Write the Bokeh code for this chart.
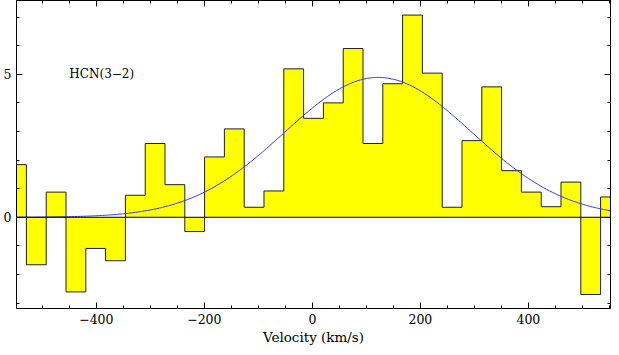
import numpy as np
from bokeh.plotting import figure
from bokeh.models import Range1d, LinearAxis, FixedTicker, Span, CustomJSTickFormatter
from bokeh.core.properties import value
from bokeh.embed import file_html
from bokeh.resources import INLINE

# Channel velocities (km/s) and intensities
velocity = [-547.8, -511.1, -474.5, -437.8, -401.2, -364.5, -327.8, -291.2, -254.5, -217.9,
            -181.2, -144.5, -107.9, -71.2, -34.6, 2.1, 38.8, 75.4, 112.1, 148.7,
            185.4, 222.1, 258.7, 295.4, 332.0, 368.7, 405.4, 442.0, 478.7, 515.3, 552.0]
intensity = [1.84, -1.66, 0.88, -2.61, -1.09, -1.52, 0.77, 2.58, 1.14, -0.50,
             2.11, 3.09, 0.35, 0.92, 5.19, 3.46, 4.00, 5.90, 2.58, 4.67,
             7.07, 5.04, 0.35, 2.68, 4.56, 1.63, 0.88, 0.37, 1.23, -2.70, 0.71]
channel_width = 36.66

# Gaussian fit parameters
fit_amplitude = 4.89
fit_center = 122.0
fit_fwhm = 409.0

line_label = "HCN(3\u22122)"
x_label = "Velocity (km/s)"
x_ticks = [-400, -200, 0, 200, 400]
x_tick_labels = ["\u2212400", "\u2212200", "0", "200", "400"]
x_minor = list(range(-500, 551, 50))
y_ticks = [0, 5]
y_tick_labels = ["0", "5"]
y_minor = [-3, -2, -1, 0, 1, 2, 3, 4, 5, 6, 7]

x_range = (-547.8, 552.0)
y_range = (-3.19, 7.58)

FONT = "DejaVu Serif"

p = figure(width=611, height=347, output_backend="svg", toolbar_location=None,
           x_range=Range1d(*x_range), y_range=Range1d(*y_range),
           min_border_left=14, min_border_right=1, min_border_top=0, min_border_bottom=35,
           x_axis_location=None, y_axis_location=None)
p.xgrid.visible = False
p.ygrid.visible = False
p.outline_line_color = "black"
p.outline_line_width = 1
p.background_fill_color = "white"
p.border_fill_color = "white"

v = np.array(velocity)
h = np.array(intensity)

# step outline (histogram)
edges = np.concatenate([[v[0] - channel_width / 2], v[:-1] + channel_width / 2, [v[-1] + channel_width / 2]])
sx = np.repeat(edges, 2)[1:-1]
sy = np.repeat(h, 2)
p.varea(x=sx, y1=np.zeros_like(sy), y2=sy, fill_color="#ffff00")
p.line(sx, sy, line_color="#222222", line_width=1)

p.add_layout(Span(location=0, dimension="width", line_color="black", line_width=1))

xs = np.linspace(x_range[0], x_range[1], 400)
sigma = fit_fwhm / (2 * np.sqrt(2 * np.log(2)))
ys = fit_amplitude * np.exp(-(xs - fit_center) ** 2 / (2 * sigma ** 2))
p.line(xs, ys, line_color="#3333ff", line_width=1)

p.text(x=[-450], y=[5.0], text=[line_label], text_font=value(FONT), text_font_size="12px",
       text_baseline="middle", text_align="left", text_color="black")

blank = CustomJSTickFormatter(code="return ''")

def style(ax, labels):
    ax.major_tick_in = 6
    ax.major_tick_out = 0
    ax.minor_tick_in = 3
    ax.minor_tick_out = 0
    ax.axis_line_color = "black"
    ax.major_tick_line_color = "black"
    ax.minor_tick_line_color = "black"
    if labels:
        ax.major_label_text_font = FONT
        ax.major_label_text_font_size = "12.5px"
        ax.major_label_text_color = "black"

xb = LinearAxis(ticker=FixedTicker(ticks=x_ticks, minor_ticks=x_minor),
                major_label_overrides=dict(zip(x_ticks, x_tick_labels)),
                axis_label=x_label, axis_label_text_font=FONT, axis_label_text_font_size="13.5px",
                axis_label_text_font_style="normal", axis_label_text_color="black",
                axis_label_standoff=2, major_label_standoff=5)
style(xb, True)
p.add_layout(xb, "below")

xt = LinearAxis(ticker=FixedTicker(ticks=x_ticks, minor_ticks=x_minor), formatter=blank,
                major_label_standoff=0)
style(xt, False)
p.add_layout(xt, "above")

yl = LinearAxis(ticker=FixedTicker(ticks=y_ticks, minor_ticks=y_minor),
                major_label_overrides=dict(zip(y_ticks, y_tick_labels)), major_label_standoff=5)
style(yl, True)
p.add_layout(yl, "left")

yr = LinearAxis(ticker=FixedTicker(ticks=y_ticks, minor_ticks=y_minor), formatter=blank,
                major_label_standoff=0)
style(yr, False)
p.add_layout(yr, "right")

open("out.html", "w").write(file_html(p, INLINE))
